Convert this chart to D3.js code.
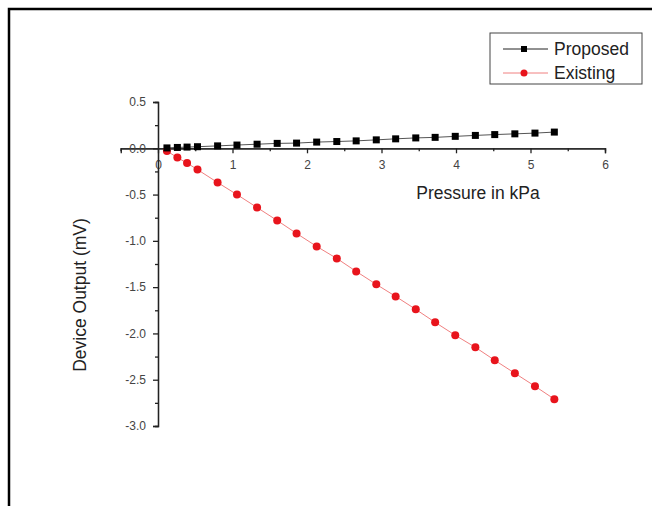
<!DOCTYPE html>
<html><head><meta charset="utf-8">
<script src="https://cdn.jsdelivr.net/npm/d3@7"></script>
<style>html,body{margin:0;padding:0;background:#fff;}svg{display:block;font-family:"Liberation Sans",Arial,sans-serif;}</style>
</head><body>
<svg id="c" width="652" height="506"></svg>
<script>
const pressure = [0.12,0.26,0.39,0.53,0.80,1.06,1.33,1.60,1.86,2.13,2.40,2.66,2.93,3.19,3.46,3.72,3.99,4.26,4.52,4.79,5.06,5.32];
const proposed = [0.004,0.009,0.013,0.017,0.026,0.035,0.044,0.053,0.056,0.067,0.073,0.080,0.091,0.102,0.112,0.118,0.129,0.139,0.148,0.156,0.164,0.175];
const existing = [-0.03,-0.10,-0.16,-0.23,-0.37,-0.50,-0.64,-0.78,-0.92,-1.06,-1.19,-1.33,-1.47,-1.60,-1.74,-1.88,-2.02,-2.15,-2.29,-2.43,-2.57,-2.71];
const xTicks = [0,1,2,3,4,5,6];
const yTicks = [0.5,0.0,-0.5,-1.0,-1.5,-2.0,-2.5,-3.0];
const seriesNames = ["Proposed","Existing"];
const xTitle = "Pressure in kPa";
const yTitle = "Device Output (mV)";

const svg = d3.select("#c");
svg.append("rect").attr("x",9).attr("y",9).attr("width",700).attr("height",600)
  .attr("fill","none").attr("stroke","#000").attr("stroke-width",2.5);

const x = d3.scaleLinear().domain([-0.5,6]).range([120.75,605]);
const y = d3.scaleLinear().domain([0.5,-3]).range([102,426]);

const tc = "#444";
const fmtY = d => d3.format(".1f")(d).replace("\u2212","-");
// x axis
const gx = svg.append("g").attr("transform",`translate(0,${y(0)})`);
gx.call(d3.axisBottom(x).tickValues(xTicks).tickSize(5).tickPadding(7).tickFormat(d3.format("d")));
gx.append("g").call(d3.axisBottom(x).tickValues([-0.5,0.5,1.5,2.5,3.5,4.5,5.5]).tickSize(3).tickFormat(""));
gx.selectAll(".domain").attr("stroke","#222").attr("stroke-width",1.3);
gx.selectAll(".tick line").attr("stroke","#222").attr("stroke-width",1.3);
gx.selectAll("text").attr("fill",tc).attr("font-size",12).attr("font-family","Liberation Sans, Arial, sans-serif");

// y axis
const gy = svg.append("g").attr("transform",`translate(${x(0)},0)`);
gy.call(d3.axisLeft(y).tickValues(yTicks).tickSize(5).tickPadding(7).tickFormat(fmtY));
gy.append("g").call(d3.axisLeft(y).tickValues([0.25,-0.25,-0.75,-1.25,-1.75,-2.25,-2.75]).tickSize(3).tickFormat(""));
gy.selectAll(".domain").attr("stroke","#222").attr("stroke-width",1.3);
gy.selectAll(".tick line").attr("stroke","#222").attr("stroke-width",1.3);
gy.selectAll("text").attr("fill",tc).attr("font-size",12).attr("font-family","Liberation Sans, Arial, sans-serif");

// titles
svg.append("text").attr("x",478).attr("y",199).attr("text-anchor","middle")
  .attr("font-size",17.5).attr("fill","#222").text(xTitle);
svg.append("text").attr("transform",`translate(86,295) rotate(-90)`).attr("text-anchor","middle")
  .attr("font-size",17.5).attr("fill","#222").text(yTitle);

const line = d3.line().x(d=>x(d[0])).y(d=>y(d[1]));
const pData = pressure.map((p,i)=>[p,proposed[i]]);
const eData = pressure.map((p,i)=>[p,existing[i]]);

svg.append("path").datum(eData).attr("d",line).attr("fill","none").attr("stroke","#f08080").attr("stroke-width",1);
svg.append("path").datum(pData).attr("d",line).attr("fill","none").attr("stroke","#555").attr("stroke-width",1);

svg.append("g").selectAll("circle").data(eData).join("circle")
  .attr("cx",d=>x(d[0])).attr("cy",d=>y(d[1])).attr("r",4).attr("fill","#e8141c");
svg.append("g").selectAll("rect").data(pData).join("rect")
  .attr("x",d=>x(d[0])-3.5).attr("y",d=>y(d[1])-3.5).attr("width",7).attr("height",7).attr("fill","#000");

// legend
const lg = svg.append("g");
lg.append("rect").attr("x",490).attr("y",33).attr("width",152).attr("height",51)
  .attr("fill","#fff").attr("stroke","#444").attr("stroke-width",1);
const lrows = [{name:seriesNames[0],c:"#222",ly:49,m:"sq"},{name:seriesNames[1],c:"#f08080",ly:73,m:"ci"}];
lrows.forEach(r=>{
  lg.append("line").attr("x1",503).attr("x2",548).attr("y1",r.ly).attr("y2",r.ly).attr("stroke",r.c).attr("stroke-width",1);
  if(r.m==="sq") lg.append("rect").attr("x",521).attr("y",r.ly-3).attr("width",6).attr("height",6).attr("fill","#000");
  else lg.append("circle").attr("cx",524).attr("cy",r.ly).attr("r",3.5).attr("fill","#e8141c");
  lg.append("text").attr("x",554).attr("y",r.ly+6).attr("font-size",17.5).attr("fill","#222").text(r.name);
});
</script>
</body></html>
